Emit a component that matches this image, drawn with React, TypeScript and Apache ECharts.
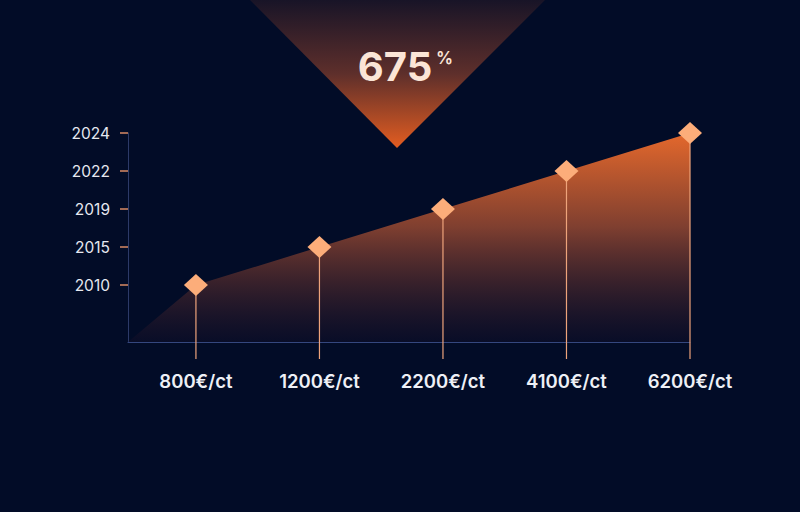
import React, { useEffect, useRef } from "react";
import * as echarts from "echarts";

// chart data
const years = ["2010", "2015", "2019", "2022", "2024"];
const prices = ["800€/ct", "1200€/ct", "2200€/ct", "4100€/ct", "6200€/ct"];
const yearIndex = [0, 1, 2, 3, 4];
const priceIndex = [0, 1, 2, 3, 4];
const growthLabel = "675";
const growthUnit = "%";

const X_MIN = -0.55;
const Y_MIN = -1.5;

const points = priceIndex.map((x, i) => [x, yearIndex[i]]);

export default function App() {
  const chartRef = useRef<HTMLDivElement>(null);

  useEffect(() => {
    if (!chartRef.current) return;
    const chart = echarts.init(chartRef.current, undefined, { renderer: "svg" });

    const font = "Inter, 'Noto Sans', sans-serif";

    chart.setOption({
      animation: false,
      backgroundColor: "#020c27",
      grid: {
        left: 128,
        right: 110,
        top: 133,
        bottom: 170,
        containLabel: false,
        outerBoundsMode: "none",
      },
      xAxis: {
        type: "value",
        min: X_MIN,
        max: 4,
        splitLine: { show: false },
        axisLine: { show: true, onZero: false, lineStyle: { color: "#34477e", width: 1 } },
        axisTick: { show: false },
        axisLabel: {
          customValues: priceIndex,
          formatter: (v: number) => prices[Math.round(v)] ?? "",
          color: "#eef0f6",
          fontSize: 18.5,
          fontWeight: 600,
          fontFamily: font,
          margin: 29,
        },
      },
      yAxis: {
        type: "value",
        min: Y_MIN,
        max: 4,
        splitLine: { show: false },
        axisLine: { show: true, onZero: false, lineStyle: { color: "#2c3a68", width: 1 } },
        axisTick: {
          show: true,
          customValues: yearIndex,
          length: 8,
          lineStyle: { color: "#d98a66", width: 1.5 },
        },
        axisLabel: {
          customValues: yearIndex,
          formatter: (v: number) => years[Math.round(v)] ?? "",
          color: "#e6e8f0",
          fontSize: 15.5,
          fontFamily: font,
          margin: 18,
        },
      },
      graphic: [
        {
          type: "polygon",
          z: -1,
          shape: { points: [[250, 0], [545, 0], [397, 148]] },
          style: {
            fill: new echarts.graphic.LinearGradient(0, 0, 0, 1, [
              { offset: 0, color: "#181427" },
              { offset: 0.5, color: "#5e2f2b" },
              { offset: 1, color: "#e35d21" },
            ]),
          },
        },
        {
          type: "text",
          x: 395,
          y: 66,
          style: {
            text: growthLabel,
            fill: "#fbe5d6",
            font: `700 40px ${font}`,
            align: "center",
            verticalAlign: "middle",
          },
        },
        {
          type: "text",
          x: 436,
          y: 49,
          style: {
            text: growthUnit,
            fill: "#fbe5d6",
            font: `600 17px ${font}`,
            align: "left",
            verticalAlign: "top",
          },
        },
      ],
      series: [
        {
          type: "line",
          data: [[X_MIN, Y_MIN], ...points],
          symbol: "none",
          lineStyle: { width: 0 },
          areaStyle: {
            origin: "start",
            opacity: 1,
            color: new echarts.graphic.LinearGradient(0, 0, 0, 1, [
              { offset: 0, color: "#e4682c" },
              { offset: 0.45, color: "#7f3f30" },
              { offset: 1, color: "rgba(16,14,40,0.5)" },
            ]),
          },
          z: 1,
        },
        {
          type: "custom",
          data: points,
          renderItem: (params: any, api: any) => {
            const p = api.coord([api.value(0), api.value(1)]);
            const bottom = params.coordSys.y + params.coordSys.height;
            return {
              type: "line",
              shape: { x1: p[0], y1: p[1], x2: p[0], y2: bottom + 17 },
              style: { stroke: "#eea37b", lineWidth: 1.2 },
            };
          },
          z: 2,
        },
        {
          type: "scatter",
          data: points,
          symbol: "diamond",
          symbolSize: [24, 22],
          itemStyle: { color: "#fcad7a", opacity: 1 },
          z: 3,
        },
      ],
    });

    return () => {
      chart.dispose();
    };
  }, []);

  return (
    <div
      ref={chartRef}
      style={{ position: "fixed", left: 0, top: 0, width: 800, height: 512 }}
    />
  );
}
